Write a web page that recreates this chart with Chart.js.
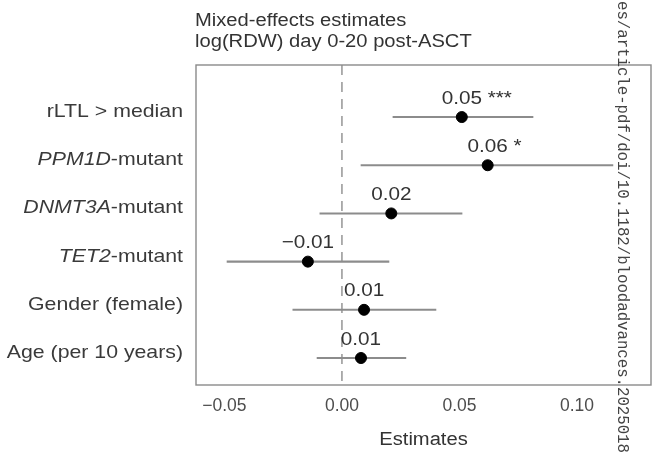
<!DOCTYPE html>
<html>
<head>
<meta charset="utf-8">
<script src="https://cdn.jsdelivr.net/npm/chart.js@4.4.1/dist/chart.umd.min.js"></script>
<style>
  html, body { margin: 0; padding: 0; background: #fff; }
  #wrap { width: 653px; height: 453px; }
</style>
</head>
<body>
<div id="wrap"><canvas id="myChart" width="653" height="453"></canvas></div>
<script>
// Forest plot: mixed-effects estimates with 95% CI

var terms = ['rLTL > median', 'PPM1D-mutant', 'DNMT3A-mutant', 'TET2-mutant', 'Gender (female)', 'Age (per 10 years)'];
var italicPart = ['', 'PPM1D', 'DNMT3A', 'TET2', '', ''];
var estimates = [0.051, 0.062, 0.021, -0.0145, 0.0094, 0.0081];
var ciLow = [0.0217, 0.0081, -0.0094, -0.0489, -0.0209, -0.0106];
var ciHigh = [0.0813, 0.1153, 0.0511, 0.0200, 0.0400, 0.0272];
var stars = ['***', '*', '', '', '', ''];
var xTicks = [-0.05, 0.00, 0.05, 0.10];

var titleLines = ['Mixed-effects estimates', 'log(RDW) day 0-20 post-ASCT'];
var xTitle = 'Estimates';
var sideNote = 'es/article-pdf/doi/10.1182/bloodadvances.2025018';

var FONT = "'Liberation Sans', Arial, Helvetica, sans-serif";
var WIDE = 1.12; // text is set a bit wider than the stock font
Chart.defaults.font.family = FONT;

// top row first
var rowPos = terms.map(function(t, i) { return terms.length - i; });

var ciData = [];
var pointData = [];
for (var i = 0; i < terms.length; i++) {
  ciData.push({ x: [ciLow[i], ciHigh[i]], y: rowPos[i] });
  pointData.push({ x: estimates[i], y: rowPos[i] });
}

function fmt(v) {
  var s = Math.abs(v).toFixed(2);
  if (Number(v.toFixed(2)) < 0) s = '\u2212' + s;
  return s;
}

// draw text stretched horizontally; align is 'left' | 'right' | 'center'
function wideText(ctx, text, x, y, align) {
  var w = ctx.measureText(text).width * WIDE;
  var x0 = align === 'right' ? x - w : (align === 'center' ? x - w / 2 : x);
  ctx.save();
  ctx.translate(x0, y);
  ctx.scale(WIDE, 1);
  ctx.textAlign = 'left';
  ctx.fillText(text, 0, 0);
  ctx.restore();
  return w;
}

var forestDecor = {
  id: 'forestDecor',
  beforeDatasetsDraw: function(chart) {
    var ctx = chart.ctx, a = chart.chartArea, xs = chart.scales.x;
    var x0 = xs.getPixelForValue(0);
    ctx.save();
    ctx.strokeStyle = '#7a7a7a';
    ctx.lineWidth = 1.2;
    ctx.setLineDash([10, 7]);
    ctx.beginPath();
    ctx.moveTo(x0, a.top);
    ctx.lineTo(x0, a.bottom);
    ctx.stroke();
    ctx.setLineDash([]);
    ctx.strokeStyle = '#8a8a8a';
    ctx.lineWidth = 1.4;
    ctx.strokeRect(a.left, a.top, a.right - a.left, a.bottom - a.top);
    ctx.restore();
  },
  afterDatasetsDraw: function(chart) {
    var ctx = chart.ctx;
    var meta = chart.getDatasetMeta(1);
    ctx.save();
    ctx.fillStyle = '#333';
    ctx.textBaseline = 'alphabetic';
    ctx.font = '18.5px ' + FONT;
    meta.data.forEach(function(pt, i) {
      var num = fmt(estimates[i]);
      var w = ctx.measureText(num).width * WIDE;
      wideText(ctx, num + (stars[i] ? ' ' + stars[i] : ''), pt.x - w / 2, pt.y - 13.5, 'left');
    });
    ctx.restore();
  },
  afterDraw: function(chart) {
    var ctx = chart.ctx, a = chart.chartArea, ys = chart.scales.y;
    ctx.save();
    ctx.textBaseline = 'alphabetic';

    // title
    ctx.fillStyle = '#333';
    ctx.font = '18px ' + FONT;
    wideText(ctx, titleLines[0], 195, 26, 'left');
    wideText(ctx, titleLines[1], 195, 47, 'left');

    // row labels, gene names in italics
    ctx.fillStyle = '#3a3a3a';
    terms.forEach(function(t, i) {
      var y = ys.getPixelForValue(rowPos[i]);
      var it = italicPart[i];
      var rest = t.slice(it.length);
      var xRight = a.left - 13;
      ctx.font = '19px ' + FONT;
      var wRest = wideText(ctx, rest, xRight, y, 'right');
      if (it) {
        ctx.font = 'italic 19px ' + FONT;
        wideText(ctx, it, xRight - wRest, y, 'right');
      }
    });

    // x axis title
    ctx.fillStyle = '#333';
    ctx.font = '18px ' + FONT;
    wideText(ctx, xTitle, (a.left + a.right) / 2, 445, 'center');

    // vertical note at the right
    ctx.translate(622, 1);
    ctx.rotate(Math.PI / 2);
    ctx.font = "15.7px 'Liberation Mono', 'Courier New', monospace";
    ctx.fillStyle = '#444';
    ctx.textAlign = 'left';
    ctx.textBaseline = 'middle';
    ctx.fillText(sideNote, 0, 0);
    ctx.restore();
  }
};

const config = {
  type: 'scatter',
  data: {
    datasets: [
      {
        type: 'bar',
        label: '95% CI',
        indexAxis: 'y',
        data: ciData,
        backgroundColor: '#8c8c8c',
        barThickness: 1.4,
        borderSkipped: false,
        order: 2
      },
      {
        type: 'scatter',
        label: 'Estimate',
        data: pointData,
        backgroundColor: '#000',
        borderColor: '#000',
        pointRadius: 5.5,
        pointHoverRadius: 5.5,
        order: 1
      }
    ]
  },
  options: {
    responsive: false,
    animation: false,
    devicePixelRatio: 1,
    layout: { autoPadding: false, padding: { top: 65, right: 2, left: 0, bottom: 0 } },
    plugins: {
      legend: { display: false },
      tooltip: { enabled: false },
      title: { display: false }
    },
    scales: {
      x: {
        type: 'linear',
        offset: false,
        min: -0.0621,
        max: 0.1315,
        grid: { display: false, drawTicks: false, offset: false },
        border: { display: false },
        afterBuildTicks: function(scale) {
          scale.ticks = xTicks.map(function(v) { return { value: v }; });
        },
        ticks: {
          padding: 11,
          color: '#4d4d4d',
          font: { size: 17.5 },
          maxRotation: 0,
          callback: function(v) { return fmt(v); }
        },
        afterFit: function(scale) { scale.height = 68; }
      },
      y: {
        type: 'linear',
        offset: false,
        min: 0.44,
        max: 7.08,
        grid: { display: false, drawTicks: false, offset: false },
        border: { display: false },
        ticks: { display: false },
        afterFit: function(scale) { scale.width = 196; }
      }
    }
  },
  plugins: [forestDecor]
};

const myChart = new Chart(document.getElementById('myChart'), config);
</script>
</body>
</html>
